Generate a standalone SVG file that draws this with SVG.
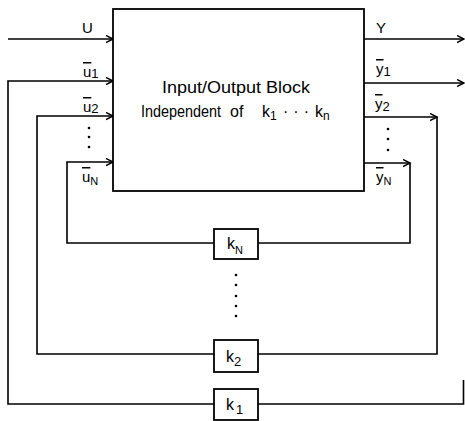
<svg xmlns="http://www.w3.org/2000/svg" width="465" height="421" viewBox="0 0 465 421">
<style>
.ln{fill:none;stroke:#000;stroke-width:1.6;stroke-linejoin:miter}
.bx{fill:#fff;stroke:#000;stroke-width:1.8}
.t{font-family:"Liberation Sans",Arial,sans-serif;fill:#000}
.lb{font-size:15px}
.sub{font-size:13px}
.subs{font-size:11px}
.ov{text-decoration:overline}
.dot{fill:#000}
</style>
<defs>
<marker id="ah" markerUnits="userSpaceOnUse" markerWidth="10" markerHeight="10" refX="7" refY="4" orient="auto">
<path d="M0,0.5 L7,4 L0,7.5" fill="none" stroke="#000" stroke-width="1.5"/>
</marker>
</defs>
<g id="connectors">
<path class="ln" d="M8 39 H113" marker-end="url(#ah)"/>
<path class="ln" d="M214 404 H8 V81 H113" marker-end="url(#ah)"/>
<path class="ln" d="M214 354 H37 V116 H113" marker-end="url(#ah)"/>
<path class="ln" d="M214 243 H67 V162 H113" marker-end="url(#ah)"/>
<path class="ln" d="M364 39 H464" marker-end="url(#ah)"/>
<path class="ln" d="M364 83 H464" marker-end="url(#ah)"/>
<path class="ln" d="M364 117 H437" marker-end="url(#ah)"/>
<path class="ln" d="M437 117 V354 H258"/>
<path class="ln" d="M364 163 H410" marker-end="url(#ah)"/>
<path class="ln" d="M410 163 V243 H258"/>
<path class="ln" d="M258 404 H463.5 V380"/>
</g>
<g id="block">
<rect class="bx" x="113" y="9" width="251" height="182"/>
<text class="t" x="162" y="93" font-size="16" textLength="148" lengthAdjust="spacingAndGlyphs">Input/Output Block</text>
<text class="t" x="141" y="117" font-size="16" textLength="80" lengthAdjust="spacingAndGlyphs">Independent</text>
<text class="t" x="230" y="117" font-size="16">of</text>
<text class="t" x="262" y="117" font-size="16">k<tspan font-size="12" dy="3">1</tspan></text>
<text class="t" x="283" y="117" font-size="16" letter-spacing="5">···</text>
<text class="t" x="315" y="117" font-size="16">k<tspan font-size="12" dy="3">n</tspan></text>
</g>
<g id="labels">
<text class="t lb" x="82" y="33">U</text>
<text class="t lb" x="83" y="77"><tspan class="ov">u</tspan><tspan class="sub" dy="1">1</tspan></text>
<text class="t lb" x="83" y="112"><tspan class="ov">u</tspan><tspan class="sub" dy="1">2</tspan></text>
<text class="t lb" x="82" y="182"><tspan class="ov">u</tspan><tspan class="subs" dy="3">N</tspan></text>
<text class="t lb" x="376" y="33">Y</text>
<text class="t lb" x="376" y="74"><tspan class="ov">y</tspan><tspan class="sub" dy="2">1</tspan></text>
<text class="t lb" x="375" y="109"><tspan class="ov">y</tspan><tspan class="sub" dy="2">2</tspan></text>
<text class="t lb" x="376" y="182"><tspan class="ov">y</tspan><tspan class="subs" dy="3">N</tspan></text>
</g>
<g id="dots">
<circle class="dot" cx="89" cy="128" r="1.3"/>
<circle class="dot" cx="89" cy="137" r="1.3"/>
<circle class="dot" cx="89" cy="147" r="1.3"/>
<circle class="dot" cx="388" cy="129" r="1.3"/>
<circle class="dot" cx="388" cy="139" r="1.3"/>
<circle class="dot" cx="388" cy="150" r="1.3"/>
<circle class="dot" cx="236" cy="275" r="1.3"/>
<circle class="dot" cx="236" cy="285" r="1.3"/>
<circle class="dot" cx="236" cy="296" r="1.3"/>
<circle class="dot" cx="236" cy="306" r="1.3"/>
<circle class="dot" cx="236" cy="316" r="1.3"/>
</g>
<g id="kN">
<rect class="bx" x="214" y="229" width="44" height="30"/>
<text class="t" x="227" y="249" font-size="16">k<tspan font-size="11" dy="5">N</tspan></text>
</g>
<g id="k2">
<rect class="bx" x="214" y="340" width="44" height="32"/>
<text class="t" x="226" y="362" font-size="16">k<tspan font-size="13" dy="4">2</tspan></text>
</g>
<g id="k1">
<rect class="bx" x="214" y="389" width="44" height="31"/>
<text class="t" x="226" y="410" font-size="16">k<tspan font-size="13" dx="2" dy="4">1</tspan></text>
</g>
</svg>
